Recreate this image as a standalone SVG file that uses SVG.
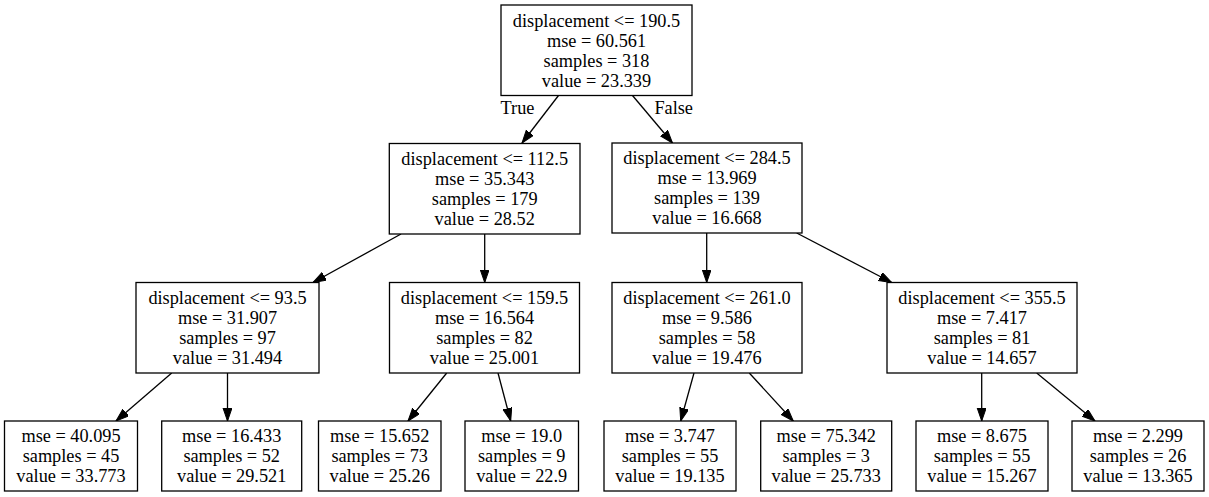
<svg xmlns="http://www.w3.org/2000/svg" width="1209" height="497" viewBox="0 0 1209 497">
<defs>
<style>
.box{fill:#ffffff;stroke:#000000;stroke-width:1.3}
text{font-size:18.3px;fill:#000000;text-anchor:middle}
.edge{stroke:#000000;stroke-width:1.3;fill:none}
</style>
<marker id="arr" markerUnits="userSpaceOnUse" markerWidth="14" markerHeight="10" refX="13" refY="4.5" orient="auto" viewBox="0 0 14 10">
<path d="M0,0 L13,4.5 L0,9 z" fill="#000000" stroke="#000000" stroke-width="1"/>
</marker>
</defs>
<rect width="1209" height="497" fill="#ffffff"/>
<g font-family="Liberation Serif, serif">
<g id="connectors">
<line class="edge" x1="558.5" y1="95.5" x2="522" y2="143" marker-end="url(#arr)"/>
<line class="edge" x1="632.5" y1="95.5" x2="672.5" y2="143" marker-end="url(#arr)"/>
<line class="edge" x1="401" y1="234" x2="313" y2="282.5" marker-end="url(#arr)"/>
<line class="edge" x1="484.7" y1="234" x2="484.7" y2="282.5" marker-end="url(#arr)"/>
<line class="edge" x1="706.7" y1="233" x2="706.7" y2="282.5" marker-end="url(#arr)"/>
<line class="edge" x1="796.7" y1="233" x2="891.7" y2="282.5" marker-end="url(#arr)"/>
<line class="edge" x1="171.7" y1="373" x2="116" y2="421" marker-end="url(#arr)"/>
<line class="edge" x1="227.5" y1="373" x2="227.5" y2="421" marker-end="url(#arr)"/>
<line class="edge" x1="446.7" y1="373" x2="408" y2="421" marker-end="url(#arr)"/>
<line class="edge" x1="498" y1="373" x2="510.7" y2="421" marker-end="url(#arr)"/>
<line class="edge" x1="694" y1="373" x2="680.7" y2="421" marker-end="url(#arr)"/>
<line class="edge" x1="749.3" y1="373" x2="793.3" y2="421" marker-end="url(#arr)"/>
<line class="edge" x1="981.7" y1="373" x2="981.7" y2="421" marker-end="url(#arr)"/>
<line class="edge" x1="1036.7" y1="373" x2="1095" y2="421" marker-end="url(#arr)"/>
<text x="517.5" y="113.5">True</text>
<text x="673.7" y="113.5">False</text>
</g>
<g id="node0">
<rect class="box" x="501" y="5" width="191" height="90.5"/>
<text x="596.5" y="26.5">displacement &lt;= 190.5</text>
<text x="596.5" y="46.5">mse = 60.561</text>
<text x="596.5" y="66.5">samples = 318</text>
<text x="596.5" y="86.5">value = 23.339</text>
</g>
<g id="node1">
<rect class="box" x="389.3" y="143.5" width="190.7" height="90.5"/>
<text x="484.7" y="164.5">displacement &lt;= 112.5</text>
<text x="484.7" y="184.5">mse = 35.343</text>
<text x="484.7" y="204.5">samples = 179</text>
<text x="484.7" y="224.5">value = 28.52</text>
</g>
<g id="node8">
<rect class="box" x="612" y="143" width="190" height="90"/>
<text x="707" y="164">displacement &lt;= 284.5</text>
<text x="707" y="184">mse = 13.969</text>
<text x="707" y="204">samples = 139</text>
<text x="707" y="224">value = 16.668</text>
</g>
<g id="node2">
<rect class="box" x="136" y="282.5" width="183" height="90.5"/>
<text x="227.5" y="304">displacement &lt;= 93.5</text>
<text x="227.5" y="324">mse = 31.907</text>
<text x="227.5" y="344">samples = 97</text>
<text x="227.5" y="364">value = 31.494</text>
</g>
<g id="node5">
<rect class="box" x="389.5" y="282.5" width="190" height="90.5"/>
<text x="484.5" y="304">displacement &lt;= 159.5</text>
<text x="484.5" y="324">mse = 16.564</text>
<text x="484.5" y="344">samples = 82</text>
<text x="484.5" y="364">value = 25.001</text>
</g>
<g id="node9">
<rect class="box" x="612" y="282.5" width="190" height="90.5"/>
<text x="707" y="304">displacement &lt;= 261.0</text>
<text x="707" y="324">mse = 9.586</text>
<text x="707" y="344">samples = 58</text>
<text x="707" y="364">value = 19.476</text>
</g>
<g id="node12">
<rect class="box" x="887" y="282.5" width="190" height="90.5"/>
<text x="982" y="304">displacement &lt;= 355.5</text>
<text x="982" y="324">mse = 7.417</text>
<text x="982" y="344">samples = 81</text>
<text x="982" y="364">value = 14.657</text>
</g>
<g id="node3">
<rect class="box" x="4.5" y="421" width="133" height="70"/>
<text x="71" y="442">mse = 40.095</text>
<text x="71" y="462">samples = 45</text>
<text x="71" y="482">value = 33.773</text>
</g>
<g id="node4">
<rect class="box" x="161.7" y="421" width="140" height="70"/>
<text x="231.7" y="442">mse = 16.433</text>
<text x="231.7" y="462">samples = 52</text>
<text x="231.7" y="482">value = 29.521</text>
</g>
<g id="node6">
<rect class="box" x="318.5" y="421" width="122.5" height="70"/>
<text x="379.7" y="442">mse = 15.652</text>
<text x="379.7" y="462">samples = 73</text>
<text x="379.7" y="482">value = 25.26</text>
</g>
<g id="node7">
<rect class="box" x="465" y="421" width="113.5" height="70"/>
<text x="521.7" y="442">mse = 19.0</text>
<text x="521.7" y="462">samples = 9</text>
<text x="521.7" y="482">value = 22.9</text>
</g>
<g id="node10">
<rect class="box" x="604" y="421" width="132" height="70"/>
<text x="670" y="442">mse = 3.747</text>
<text x="670" y="462">samples = 55</text>
<text x="670" y="482">value = 19.135</text>
</g>
<g id="node11">
<rect class="box" x="760.7" y="421" width="131" height="70"/>
<text x="826.2" y="442">mse = 75.342</text>
<text x="826.2" y="462">samples = 3</text>
<text x="826.2" y="482">value = 25.733</text>
</g>
<g id="node13">
<rect class="box" x="916" y="421" width="132" height="70"/>
<text x="982" y="442">mse = 8.675</text>
<text x="982" y="462">samples = 55</text>
<text x="982" y="482">value = 15.267</text>
</g>
<g id="node14">
<rect class="box" x="1072" y="421" width="132" height="70"/>
<text x="1138" y="442">mse = 2.299</text>
<text x="1138" y="462">samples = 26</text>
<text x="1138" y="482">value = 13.365</text>
</g>
</g>
</svg>
